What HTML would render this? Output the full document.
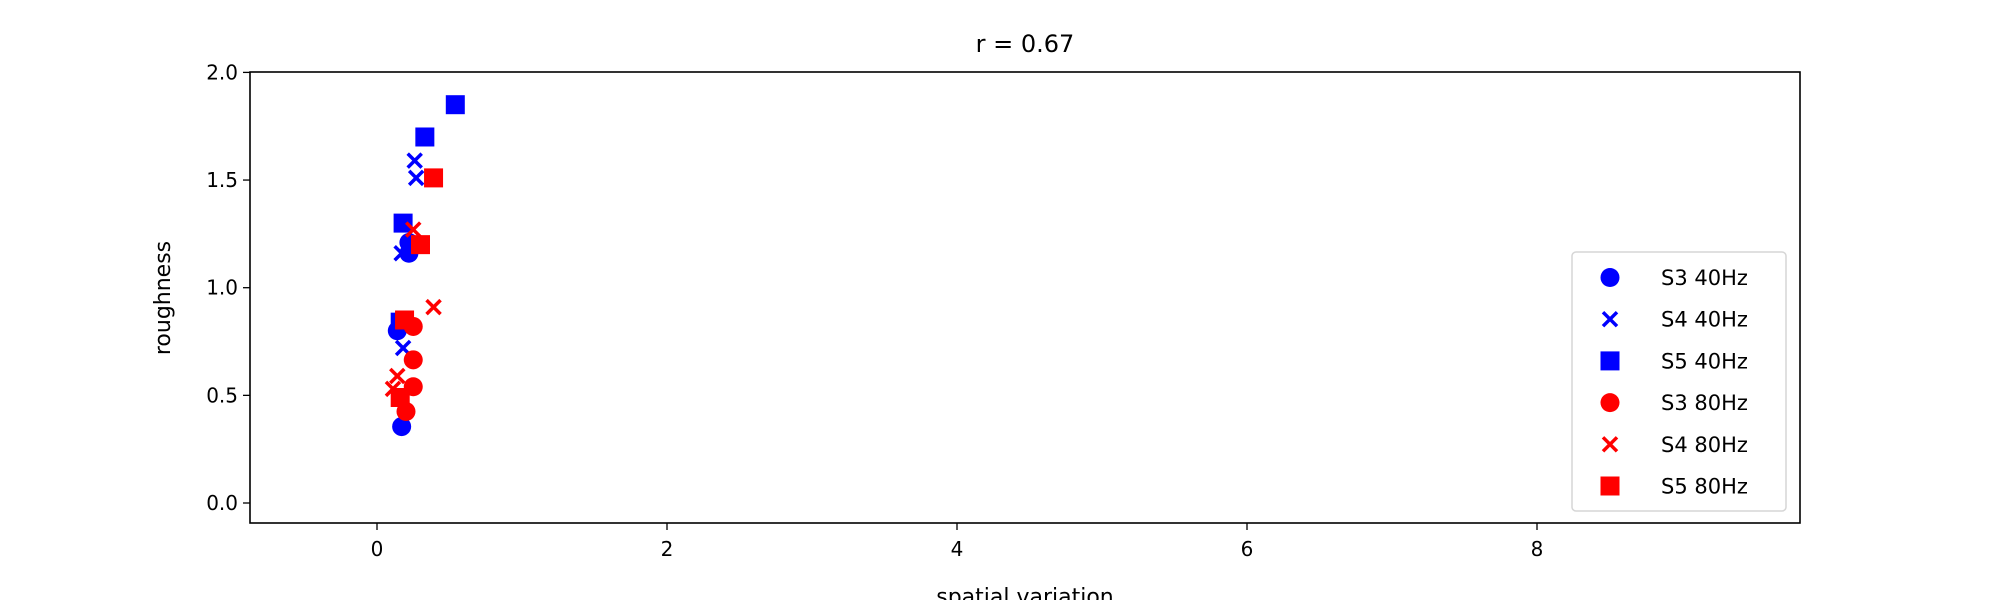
<!DOCTYPE html>
<html><head><meta charset="utf-8"><style>
html,body{margin:0;padding:0;background:#fff;}
svg{display:block;font-family:"DejaVu Sans","Liberation Sans",sans-serif;}
</style></head><body>
<svg id="chart" width="2000" height="600" xmlns="http://www.w3.org/2000/svg"></svg>
<script>
const s3_40_x=[0.22,0.22,0.14,0.17];
const s3_40_y=[1.16,1.21,0.80,0.355];
const s4_40_x=[0.26,0.27,0.17,0.18];
const s4_40_y=[1.59,1.51,1.16,0.72];
const s5_40_x=[0.54,0.33,0.18,0.16];
const s5_40_y=[1.85,1.70,1.30,0.84];
const s3_80_x=[0.25,0.25,0.25,0.20];
const s3_80_y=[0.82,0.665,0.54,0.425];
const s4_80_x=[0.25,0.39,0.14,0.11];
const s4_80_y=[1.27,0.91,0.59,0.53];
const s5_80_x=[0.39,0.30,0.19,0.16];
const s5_80_y=[1.51,1.20,0.85,0.49];
const xTicks=[0,2,4,6,8];
const yTicks=[0.0,0.5,1.0,1.5,2.0];
const legendLabels=["S3 40Hz","S4 40Hz","S5 40Hz","S3 80Hz","S4 80Hz","S5 80Hz"];

const NS="http://www.w3.org/2000/svg";
const svg=document.getElementById('chart');
const L=250,R=1800,T=72,B=523;
function xs(v){return 377+v*145;}
function ys(v){return 503-v*215.3;}
function mk(tag,attrs,parent){const e=document.createElementNS(NS,tag);for(const k in attrs)e.setAttribute(k,attrs[k]);(parent||svg).appendChild(e);return e;}
function txt(s,attrs,parent){const e=mk('text',attrs,parent);e.textContent=s;return e;}

function marker(type,color,cx,cy,g){
  let e;
  if(type==='o'){e=mk('circle',{cx:cx,cy:cy,r:9.5,fill:color},g);}
  else if(type==='s'){e=mk('rect',{x:cx-9.5,y:cy-9.5,width:19,height:19,fill:color},g);}
  else{e=mk('path',{d:`M${cx-7},${cy-7}L${cx+7},${cy+7}M${cx-7},${cy+7}L${cx+7},${cy-7}`,stroke:color,'stroke-width':3.5,fill:'none'},g);}
  return e;
}

const title=txt('r = 0.67',{x:1025,y:52,'font-size':24,'text-anchor':'middle'});



const frame=mk('rect',{x:L,y:T,width:R-L,height:B-T,fill:'none',stroke:'#000','stroke-width':1.6});



xTicks.forEach(v=>{
  const g=mk('g',{});
  
  
  mk('line',{x1:xs(v),x2:xs(v),y1:B,y2:B+7,stroke:'#000','stroke-width':1.3},g);
  txt(String(v),{x:xs(v),y:B+33,'font-size':20,'text-anchor':'middle'},g);
});
yTicks.forEach(v=>{
  const g=mk('g',{});
  
  
  mk('line',{x1:L-7,x2:L,y1:ys(v),y2:ys(v),stroke:'#000','stroke-width':1.3},g);
  txt(v.toFixed(1),{x:L-12,y:ys(v)+7,'font-size':20,'text-anchor':'end'},g);
});

const xl=txt('spatial variation',{x:1025,y:604,'font-size':22,'text-anchor':'middle'});


const yl=txt('roughness',{x:0,y:0,'font-size':22,'text-anchor':'middle',transform:'translate(170,298) rotate(-90)'});



const series=[
  {x:s3_40_x,y:s3_40_y,t:'o',c:'#0000ff',n:'s3-40hz'},
  {x:s4_40_x,y:s4_40_y,t:'x',c:'#0000ff',n:'s4-40hz'},
  {x:s5_40_x,y:s5_40_y,t:'s',c:'#0000ff',n:'s5-40hz'},
  {x:s3_80_x,y:s3_80_y,t:'o',c:'#ff0000',n:'s3-80hz'},
  {x:s4_80_x,y:s4_80_y,t:'x',c:'#ff0000',n:'s4-80hz'},
  {x:s5_80_x,y:s5_80_y,t:'s',c:'#ff0000',n:'s5-80hz'}
];
series.forEach(s=>{
  const g=mk('g',{});
  
  
  s.x.forEach((xv,i)=>{
    const m=marker(s.t,s.c,xs(xv),ys(s.y[i]),g);
    
    
  });
});

const lg=mk('g',{});


mk('rect',{x:1572,y:252,width:214,height:259,rx:4,fill:'#fff','fill-opacity':0.8,stroke:'#d6d6d6','stroke-width':1.5},lg);
series.forEach((s,i)=>{
  const e=mk('g',{},lg);
  
  
  const cy=277.5+i*41.7;
  marker(s.t,s.c,1610,cy,e);
  txt(legendLabels[i],{x:1661,y:cy+7.5,'font-size':21},e);
});
</script>
</body></html>
